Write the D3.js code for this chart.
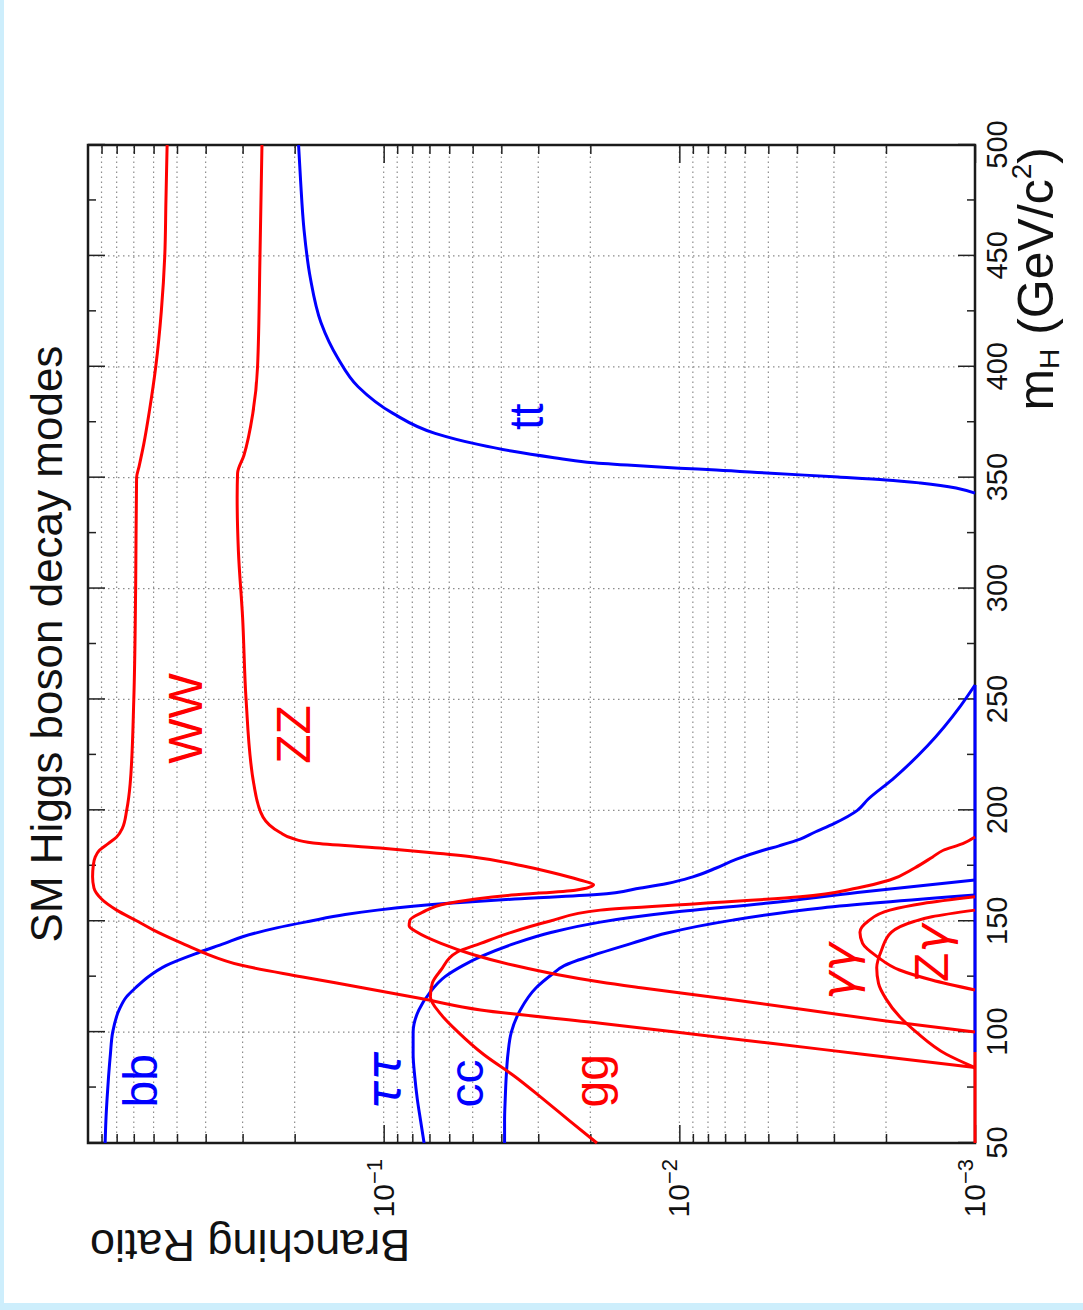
<!DOCTYPE html>
<html>
<head>
<meta charset="utf-8">
<script src="https://cdn.jsdelivr.net/npm/d3@7"></script>
<style>
  body { margin: 0; background: #fff; }
  svg { display: block; }
  text { font-family: "Liberation Sans", Arial, Helvetica, sans-serif; }
</style>
</head>
<body>
<script>
// branching ratios: [mH (GeV), BR]
var bb = [[50,0.875],[60,0.87],[70,0.862],[80,0.852],[90,0.84],[100,0.825],[110,0.785],[116,0.74],
  [120,0.69],[125,0.625],[130,0.545],[136,0.42],[140,0.345],[143,0.3],[147,0.23],[150,0.178],
  [153,0.135],[155,0.105],[158,0.062],[160,0.036],[162,0.019],[165,0.0135],[167,0.011],[170,0.009],
  [174,0.0075],[178,0.0064],[182,0.0052],[184,0.0046],[187,0.0039],[190,0.0035],[194,0.003],
  [200,0.0025],[205,0.0023],[214,0.0019],[229,0.00145],[247,0.00112],[256.5,0.001]];
var tautau = [[50,0.073],[60,0.075],[70,0.077],[80,0.0785],[90,0.0795],[100,0.0795],[110,0.076],
  [117.6,0.070],[125,0.062],[130,0.054],[134,0.047],[140,0.036],[145,0.027],[149.6,0.0185],
  [154,0.0105],[158.2,0.005],[163,0.0025],[168.6,0.001]];
var cc = [[50,0.039],[60,0.039],[70,0.0388],[80,0.0385],[90,0.038],[100,0.037],[110,0.0345],
  [120,0.0305],[126,0.027],[130,0.0245],[135.7,0.0185],[140,0.0145],[144.7,0.011],[150.5,0.0066],
  [156,0.0033],[161.8,0.001]];
var tt = [[343,0.001],[347.6,0.00153],[349,0.002],[350.3,0.0029],[352,0.0049],[353.5,0.0075],
  [354.3,0.01],[355.7,0.015],[357,0.0205],[359,0.0265],[362,0.037],[365,0.048],[370,0.067],
  [379,0.093],[391,0.122],[404,0.143],[420,0.163],[440,0.177],[462,0.186],[484,0.191],[500,0.194]];
var gg = [[50,0.019],[60,0.0235],[70,0.029],[80,0.036],[90,0.046],[100,0.056],[108,0.064],
  [116,0.0695],[122,0.0685],[128,0.064],[136,0.0565],[140,0.047],[145,0.037],[150,0.0275],
  [155,0.0185],[158,0.0085],[161,0.0039],[165,0.0025],[168.6,0.00194],[174,0.0016],[179,0.00139],
  [182,0.00128],[185,0.0011],[188,0.001]];
var WW = [[84,0.001],[90,0.0024],[95,0.0049],[100,0.0103],[104,0.0185],[110,0.047],[115,0.074],
  [120,0.118],[125,0.19],[130,0.30],[136,0.41],[140,0.48],[146,0.6],[150,0.68],[155,0.8],
  [160,0.9],[165,0.955],[170,0.965],[175,0.96],[179,0.945],[182,0.915],[185,0.855],[188,0.8],
  [192,0.765],[200,0.74],[212,0.72],[250,0.70],[300,0.69],[350,0.685],[355,0.672],[365,0.648],
  [380,0.62],[400,0.59],[425,0.565],[450,0.55],[475,0.545],[500,0.54]];
var ZZ = [[100,0.001],[105,0.002],[110,0.0037],[115,0.007],[120,0.0135],[122.6,0.0185],[126,0.026],
  [130,0.036],[135,0.05],[140,0.064],[145,0.077],[148,0.082],[150.5,0.0815],[154,0.074],
  [158,0.061],[161.8,0.037],[164,0.0225],[166.5,0.0195],[168.6,0.0217],[172,0.027],[175,0.034],
  [179,0.05],[181,0.07],[183,0.103],[185.3,0.173],[187.5,0.205],[190,0.224],[197,0.256],
  [212,0.275],[250,0.292],[287,0.30],[317,0.31],[341,0.313],[352,0.312],[360,0.297],[379,0.277],
  [400,0.267],[450,0.262],[500,0.258]];
var gamgam = [[84,0.001],[90,0.00125],[100,0.00158],[107,0.0018],[115,0.002],[122,0.00212],
  [129,0.00215],[137,0.00207],[145,0.00192],[150,0.0016],[152,0.0014],[155,0.001]];
var Zgam = [[119,0.001],[123.5,0.0014],[128,0.0018],[134,0.00214],[140,0.0024],[145,0.00245],
  [150,0.0023],[155,0.00194],[158,0.0015],[161,0.001]];
// parts of the curves that sit on the lower edge of the plot
var floorRed = [[50,0.001],[91,0.001]];
var floorBlue = [[91,0.001],[256.5,0.001]];

var blueCurves = [bb, tautau, cc, tt, floorBlue];
var redCurves = [gg, WW, ZZ, gamgam, Zgam, floorRed];

// curve labels: [text, mH, BR] (start of the text, on its baseline)
var blueLabels = [["bb",66,0.585],["ττ",65,0.088],["cc",66,0.046],["tt",371.5,0.029]];
var redLabels = [["gg",66,0.0174],["WW",221,0.411],["ZZ",221,0.177],["γγ",114.5,0.00255],["Zγ",122.6,0.00123]];

var mHMajor = [50,100,150,200,250,300,350,400,450,500];
var mHMinor = [75,125,175,225,275,325,375,425,475];
var brMajor = [0.001,0.01,0.1];
var brMajorExp = ["−3","−2","−1"];
var brMinor = [0.002,0.003,0.004,0.005,0.006,0.007,0.008,0.009,
               0.02,0.03,0.04,0.05,0.06,0.07,0.08,0.09,
               0.2,0.3,0.4,0.5,0.6,0.7,0.8,0.9];

// the whole chart is drawn upright and then turned a quarter turn to the left
var W = 998, H = 887;
var svg = d3.select("body").append("svg")
    .attr("width", 1083)
    .attr("height", 1310);

svg.append("rect").attr("x", 0).attr("y", 0).attr("width", 1083).attr("height", 1310).attr("fill", "#cdeefc");
svg.append("rect").attr("x", 4).attr("y", 0).attr("width", 1079).attr("height", 1303).attr("fill", "#ffffff");

var g = svg.append("g")
    .attr("transform", "translate(88,1143) rotate(-90)");

var x = d3.scaleLinear().domain([50, 500]).range([0, W]);
var y = d3.scaleLog().domain([0.001, 1]).range([H, 0]);

// grid
var grid = g.append("g").attr("stroke", "#8c8c8c").attr("stroke-width", 1.2).attr("stroke-dasharray", "1.5,3.5");
grid.selectAll(".gx")
    .data(mHMajor.slice(1, -1))
    .enter().append("line")
    .attr("x1", function(d){ return x(d); })
    .attr("x2", function(d){ return x(d); })
    .attr("y1", 0).attr("y2", H);
grid.selectAll(".gy")
    .data(brMajor.slice(1).concat(brMinor))
    .enter().append("line")
    .attr("x1", 0).attr("x2", W)
    .attr("y1", function(d){ return y(d); })
    .attr("y2", function(d){ return y(d); });

// ticks on all four sides, pointing inwards
function tickStyle(sel){
    sel.select(".domain").remove();
    sel.selectAll("line").attr("stroke", "#222").attr("stroke-width", 1.5);
    sel.selectAll("text").attr("fill", "#111").attr("font-family", "Liberation Sans, Arial, sans-serif");
}
var axB = g.append("g").attr("transform", "translate(0," + H + ")")
    .call(d3.axisBottom(x).tickValues(mHMajor).tickSizeInner(-17).tickSizeOuter(0).tickPadding(11)
        .tickFormat(d3.format("d")));
tickStyle(axB);
axB.selectAll("text").attr("font-size", 29);
g.append("g").attr("transform", "translate(0," + H + ")")
    .call(d3.axisBottom(x).tickValues(mHMinor).tickSize(-8).tickFormat("")).call(tickStyle);
g.append("g").call(d3.axisTop(x).tickValues(mHMajor).tickSize(-17).tickFormat("")).call(tickStyle);
g.append("g").call(d3.axisTop(x).tickValues(mHMinor).tickSize(-8).tickFormat("")).call(tickStyle);

var axL = g.append("g")
    .call(d3.axisLeft(y).tickValues(brMajor).tickSizeInner(-18).tickSizeOuter(0).tickPadding(16)
        .tickFormat(function(){ return ""; }));
tickStyle(axL);
axL.selectAll("text").attr("font-size", 30).each(function(d, i){
    var t = d3.select(this);
    t.append("tspan").text("10");
    t.append("tspan").attr("font-size", 22).attr("dy", -12).text(brMajorExp[i]);
});
g.append("g").call(d3.axisLeft(y).tickValues(brMinor).tickSize(-9).tickFormat("")).call(tickStyle);
g.append("g").attr("transform", "translate(" + W + ",0)")
    .call(d3.axisRight(y).tickValues(brMajor).tickSize(-18).tickFormat("")).call(tickStyle);
g.append("g").attr("transform", "translate(" + W + ",0)")
    .call(d3.axisRight(y).tickValues(brMinor).tickSize(-9).tickFormat("")).call(tickStyle);

// frame
g.append("rect")
    .attr("x", 0).attr("y", 0).attr("width", W).attr("height", H)
    .attr("fill", "none").attr("stroke", "#1a1a1a").attr("stroke-width", 2.5);

// curves
var line = d3.line()
    .x(function(d){ return x(d[0]); })
    .y(function(d){ return y(d[1]); })
    .curve(d3.curveMonotoneX);

g.selectAll(".blue").data(blueCurves).enter().append("path")
    .attr("d", line).attr("fill", "none").attr("stroke", "#0000ff").attr("stroke-width", 3);
g.selectAll(".red").data(redCurves).enter().append("path")
    .attr("d", line).attr("fill", "none").attr("stroke", "#ff0000").attr("stroke-width", 3);

function addLabels(data, color){
    g.selectAll(null).data(data).enter().append("text")
        .attr("x", function(d){ return x(d[1]); })
        .attr("y", function(d){ return y(d[2]); })
        .attr("font-size", 48)
        .attr("fill", color)
        .each(function(d){
            var t = d3.select(this);
            d[0].split("").forEach(function(c){
                var greek = /[\u0370-\u03ff]/.test(c);
                t.append("tspan")
                    .attr("font-family", greek ? "DejaVu Sans, sans-serif" : null)
                    .attr("font-style", greek ? "italic" : null)
                    .text(c);
            });
        });
}
addLabels(blueLabels, "#0000ff");
addLabels(redLabels, "#ff0000");

// titles
g.append("text")
    .attr("x", W / 2).attr("y", -26)
    .attr("text-anchor", "middle")
    .attr("font-size", 44)
    .attr("fill", "#111")
    .text("SM Higgs boson decay modes");

var xt = g.append("text")
    .attr("x", W - 2).attr("y", H + 78)
    .attr("text-anchor", "end")
    .attr("font-size", 50)
    .attr("fill", "#111");
xt.append("tspan").text("m");
xt.append("tspan").attr("font-size", 28).attr("dy", 6).text("H");
xt.append("tspan").attr("dy", -6).text(" (GeV/c");
xt.append("tspan").attr("font-size", 28).attr("dy", -22).text("2");
xt.append("tspan").attr("dy", 22).text(")");

g.append("text")
    .attr("transform", "translate(-87,2) rotate(-90)")
    .attr("text-anchor", "end")
    .attr("font-size", 45)
    .attr("fill", "#111")
    .text("Branching Ratio");
</script>
</body>
</html>
